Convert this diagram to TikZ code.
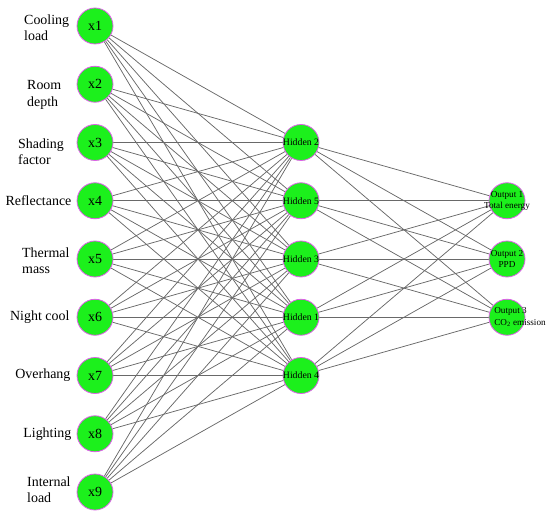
\documentclass[tikz,border=0pt]{standalone}
\usepackage{fontspec}
\setmainfont{Liberation Serif}
\usepackage{tikz}
\usetikzlibrary{positioning,backgrounds}
\definecolor{nodegreen}{RGB}{28,240,28}
\definecolor{nodeedge}{RGB}{222,96,232}
\definecolor{linkgray}{RGB}{105,105,105}

\begin{document}
\begin{tikzpicture}[x=1bp, y=-1bp,
    neuron/.style={circle, draw=nodeedge, fill=nodegreen, line width=0.8bp, minimum size=36bp, inner sep=0pt},
    inlbl/.style={font=\fontsize{14}{16.5}\selectfont, align=left, inner sep=0pt},
    smalltxt/.style={font=\fontsize{9.8}{11.5}\selectfont, align=center, inner sep=0pt},
    link/.style={draw=linkgray, line width=0.75bp}]
    \useasboundingbox (0,0) rectangle (550,517);
    %%Input layer
    \foreach \i in {1,...,9}
        \node[neuron, font=\fontsize{14}{16}\selectfont] (x\i) at (95,{26+58.25*(\i-1)}) {x\i};
    %%Hidden layer
    \foreach \h/\k in {2/3,5/4,3/5,1/6,4/7}
        \node[neuron, label={[smalltxt]center:Hidden \h}] (h\h) at (301,{26+58.25*(\k-1)}) {};
    %%Output layer
    \node[neuron, label={[smalltxt, font=\fontsize{9.2}{11.5}\selectfont]center:{Output 1\\Total energy}}] (o1) at (507,{26+58.25*3}) {};
    \node[neuron, label={[smalltxt, font=\fontsize{9.2}{11.5}\selectfont]center:{Output 2\\PPD}}] (o2) at (507,{26+58.25*4}) {};
    \node[neuron, label={[smalltxt, font=\fontsize{9.2}{11.5}\selectfont, align=left, xshift=13bp]center:{Output 3\\CO\textsubscript{2} emission}}] (o3) at (507,{26+58.25*5}) {};
    %%Input names
    \node[inlbl, anchor=west] (lCool) at (24,28) {Cooling\\load};
    \node[inlbl, anchor=west] (lRoom) at (27,95) {Room\\depth};
    \node[inlbl, anchor=west] (lShade) at (18,152) {Shading\\factor};
    \node[inlbl, left=5bp of x4] (lRefl) {Reflectance};
    \node[inlbl, anchor=west] (lTherm) at (22,261) {Thermal\\mass};
    \node[inlbl, left=7bp of x6] (lNight) {Night cool};
    \node[inlbl, left=6bp of x7] (lOver) {Overhang};
    \node[inlbl, left=5bp of x8] (lLight) {Lighting};
    \node[inlbl, anchor=west] (lInt) at (27,490) {Internal\\load};
    %%Links
    \begin{pgfonlayer}{background}
        \foreach \i in {1,...,9}
            \foreach \h in {1,...,5}
                \draw[link] (x\i) -- (h\h);
        \foreach \h in {1,...,5}
            \foreach \o in {1,2,3}
                \draw[link] (h\h) -- (o\o);
    \end{pgfonlayer}
\end{tikzpicture}
\end{document}
